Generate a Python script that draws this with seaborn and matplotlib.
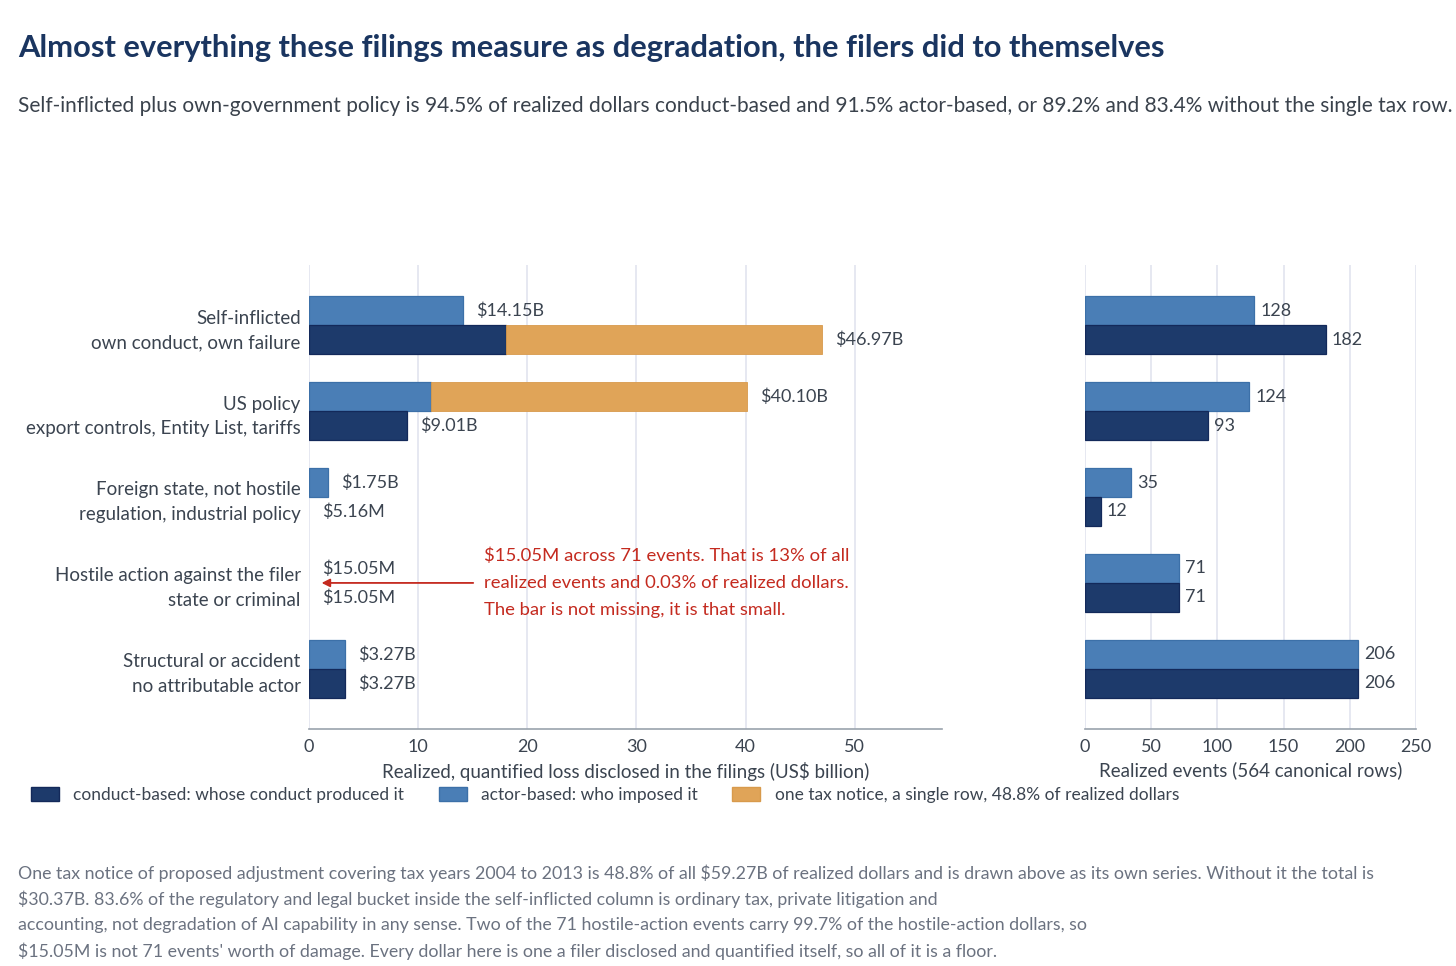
import matplotlib
matplotlib.use("Agg")
import matplotlib.pyplot as plt
from matplotlib.patches import Patch
import seaborn as sns
import pandas as pd

# categories (top to bottom)
categories = [
    "Self-inflicted\nown conduct, own failure",
    "US policy\nexport controls, Entity List, tariffs",
    "Foreign state, not hostile\nregulation, industrial policy",
    "Hostile action against the filer\nstate or criminal",
    "Structural or accident\nno attributable actor",
]
# realized dollars, US$ billion, without the single tax row
conduct_dollars = [18.05, 9.01, 0.00516, 0.01505, 3.27]
actor_dollars = [14.15, 11.18, 1.75, 0.01505, 3.27]
# the single tax notice row: conduct-based it is self-inflicted, actor-based it is US policy
tax_dollars = 28.92
tax_row_conduct = 0
tax_row_actor = 1
# realized event counts
conduct_events = [182, 93, 12, 71, 206]
actor_events = [128, 124, 35, 71, 206]

NAVY = "#1d3a6b"
BLUE = "#4a7eb6"
ORANGE = "#e0a458"
TEXT = "#3b4450"
GRID = "#e2e4ef"
RED = "#c42a1f"

sns.set_theme(style="white")
plt.rcParams["font.family"] = ["Lato", "DejaVu Sans"]
plt.rcParams["text.color"] = TEXT
plt.rcParams["axes.labelcolor"] = TEXT
plt.rcParams["xtick.color"] = TEXT
plt.rcParams["ytick.color"] = TEXT


def fmt_dollars(v):
    if v < 1:
        return f"${v * 1000:.2f}M"
    return f"${v:.2f}B"


def long_frame(conduct, actor):
    rows = []
    for cat, c, a in zip(categories, conduct, actor):
        rows.append({"category": cat, "basis": "actor", "value": a})
        rows.append({"category": cat, "basis": "conduct", "value": c})
    return pd.DataFrame(rows)


fig = plt.figure(figsize=(14.56, 9.66), dpi=100)
W, H = 1456, 966
ax1 = fig.add_axes([309 / W, (H - 729) / H, (942 - 309) / W, 464 / H])
ax2 = fig.add_axes([1085 / W, (H - 729) / H, (1416 - 1085) / W, 464 / H])

BAR_W = 0.674
OFF = BAR_W / 4
pal = {"actor": BLUE, "conduct": NAVY}
edges = ["#3c70a8", "#13295a"]

df_dollars = long_frame(conduct_dollars, actor_dollars)
df_events = long_frame(conduct_events, actor_events)

for ax, df in [(ax1, df_dollars), (ax2, df_events)]:
    sns.barplot(data=df, x="value", y="category", hue="basis",
                hue_order=["actor", "conduct"], palette=pal, saturation=1,
                width=BAR_W, orient="h", errorbar=None, legend=False, ax=ax,
                zorder=3)
    xmax = df["value"].max()
    for cont, ec in zip(ax.containers, edges):
        for p in cont:
            p.set_edgecolor(ec)
            # hair-thin bars stay as they are, without an outline
            p.set_linewidth(0.9 if p.get_width() > xmax * 0.01 else 0)
    ax.set_ylim(4.7, -0.7)
    ax.grid(axis="x", color=GRID, linewidth=1.2, zorder=0)
    ax.set_axisbelow(True)
    for s in ["top", "right", "left"]:
        ax.spines[s].set_visible(False)
    ax.spines["bottom"].set_color("#9aa3ad")
    ax.spines["bottom"].set_linewidth(1.2)
    ax.tick_params(axis="x", length=0, pad=7, labelsize=13)
    ax.tick_params(axis="y", length=0, pad=6, labelsize=13.5)
    ax.set_ylabel("")

for lab in ax1.get_yticklabels():
    lab.set_linespacing(1.55)

# the single tax notice, stacked on the row it belongs to under each basis
ax1.barh([tax_row_conduct + OFF, tax_row_actor - OFF], [tax_dollars, tax_dollars],
         left=[conduct_dollars[tax_row_conduct], actor_dollars[tax_row_actor]],
         height=BAR_W / 2, color=ORANGE, edgecolor="#d89a4c", linewidth=0.6, zorder=3)

# value labels
for i in range(len(categories)):
    c_tot = conduct_dollars[i] + (tax_dollars if i == tax_row_conduct else 0)
    a_tot = actor_dollars[i] + (tax_dollars if i == tax_row_actor else 0)
    for y, v in [(i - OFF, a_tot), (i + OFF, c_tot)]:
        ax1.annotate(fmt_dollars(v), (v, y), xytext=(13, 0), textcoords="offset pixels",
                     va="center", ha="left", fontsize=13, color=TEXT)
    for y, v in [(i - OFF, actor_events[i]), (i + OFF, conduct_events[i])]:
        ax2.annotate(f"{v}", (v, y), xytext=(6, 0), textcoords="offset pixels",
                     va="center", ha="left", fontsize=13, color=TEXT)

ax1.set_xlim(0, 58)
ax1.set_xticks(range(0, 60, 10))
ax2.set_xlim(0, 250)
ax2.set_xticks(range(0, 251, 50))
ax2.set_yticklabels([])
ax1.set_xlabel("Realized, quantified loss disclosed in the filings (US$ billion)",
               fontsize=13.5, labelpad=5)
ax2.set_xlabel("Realized events (564 canonical rows)", fontsize=13.5, labelpad=5)

# annotation for the hostile-action row
ax1.annotate("", xy=(0.9, 3), xytext=(15.3, 3),
             arrowprops=dict(arrowstyle="-|>", color=RED, lw=1.3, mutation_scale=12),
             zorder=5)
ax1.text(16.0, 3.0,
         "$15.05M across 71 events. That is 13% of all\n"
         "realized events and 0.03% of realized dollars.\n"
         "The bar is not missing, it is that small.",
         color=RED, fontsize=13.3, va="center", ha="left", linespacing=1.86)

# legend
handles = [Patch(facecolor=NAVY, edgecolor="#13295a", label="conduct-based: whose conduct produced it"),
           Patch(facecolor=BLUE, edgecolor="#3c70a8", label="actor-based: who imposed it"),
           Patch(facecolor=ORANGE, edgecolor="#d89a4c", label="one tax notice, a single row, 48.8% of realized dollars")]
fig.legend(handles=handles, loc="center left", bbox_to_anchor=(24 / W, 1 - 795 / H),
           ncol=3, frameon=False, fontsize=12.5, handlelength=1.6, handleheight=0.8,
           columnspacing=1.98, handletextpad=0.85, borderaxespad=0)

# titles
fig.text(18 / W, 1 - 48 / H,
         "Almost everything these filings measure as degradation, the filers did to themselves",
         fontsize=22.2, fontweight="bold", color="#1a3560", va="center", ha="left")
fig.text(18 / W, 1 - 106 / H,
         "Self-inflicted plus own-government policy is 94.5% of realized dollars conduct-based "
         "and 91.5% actor-based, or 89.2% and 83.4% without the single tax row.",
         fontsize=15.0, color="#3a424c", va="center", ha="left")

fig.text(18 / W, 1 - 864 / H,
         "One tax notice of proposed adjustment covering tax years 2004 to 2013 is 48.8% of all "
         "$59.27B of realized dollars and is drawn above as its own series. Without it the total is\n"
         "$30.37B. 83.6% of the regulatory and legal bucket inside the self-inflicted column is "
         "ordinary tax, private litigation and\n"
         "accounting, not degradation of AI capability in any sense. Two of the 71 hostile-action "
         "events carry 99.7% of the hostile-action dollars, so\n"
         "$15.05M is not 71 events' worth of damage. Every dollar here is one a filer disclosed "
         "and quantified itself, so all of it is a floor.",
         fontsize=12.75, color="#6b7280", va="top", ha="left", linespacing=1.65)

fig.savefig("out.png", dpi=100)
